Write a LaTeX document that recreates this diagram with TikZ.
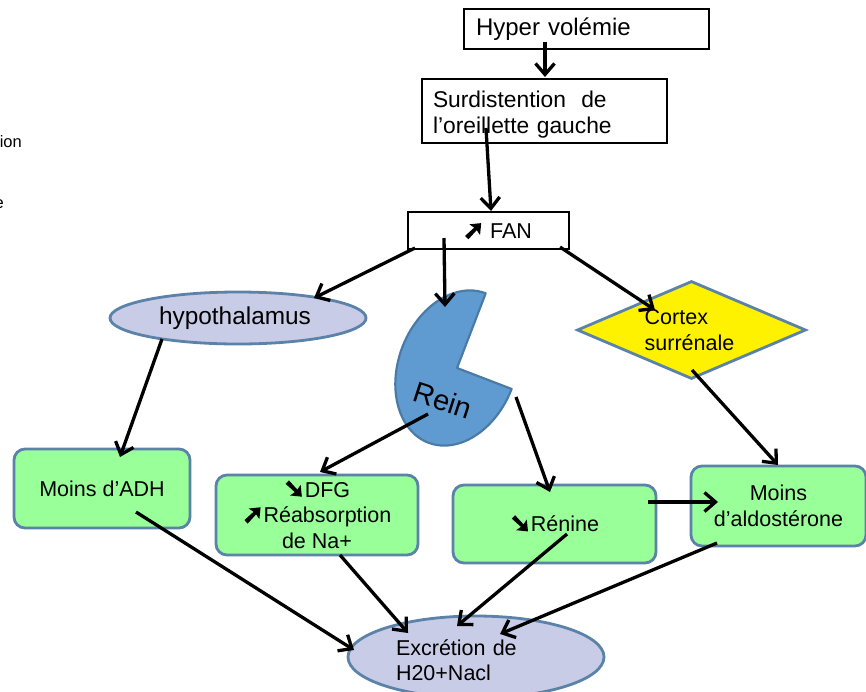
\documentclass[tikz,border=0pt]{standalone}
\usepackage{fontspec}
\setmainfont{Liberation Sans}
\newfontfamily\dv[RawFeature={embolden=7}]{DejaVu Sans}
\usetikzlibrary{arrows.meta,shapes.geometric}
\definecolor{nodeblue}{HTML}{5B82A8}
\definecolor{greenfill}{HTML}{99FF99}
\definecolor{lavfill}{HTML}{C9CCE6}
\definecolor{piefill}{HTML}{5F9BD1}
\definecolor{pieline}{HTML}{4A7BA6}
\newcommand{\up}{{\dv\fontsize{25}{18}\selectfont ➚}}
\newcommand{\dn}{{\dv\fontsize{25}{18}\selectfont ➘}}
\tikzset{
  body/.style={font=\fontsize{21.5}{25.5}\selectfont},
  plainbox/.style={draw=black,line width=1.5pt,fill=white,inner sep=0pt,align=left},
  greenbox/.style={body,draw=nodeblue,line width=2.8pt,fill=greenfill,rounded corners=11pt,inner sep=0pt,align=center},
  lavell/.style={body,ellipse,draw=nodeblue,line width=2.8pt,fill=lavfill,inner sep=0pt,align=left},
  arr/.style={draw=black,line width=3.3pt,-{Straight Barb[length=11pt,width=19pt,line width=3.3pt]}}
}
\begin{document}
\begin{tikzpicture}[x=1pt,y=-1pt]
\useasboundingbox (0,0) rectangle (866,691);
\clip (0,0) rectangle (866,691);
\node[font=\fontsize{16.5}{20}\selectfont,anchor=east,inner sep=0pt] (frag1) at (22,142) {ion};
\node[font=\fontsize{16.5}{20}\selectfont,anchor=east,inner sep=0pt] (frag2) at (4,204) {e};

\node[plainbox,font=\fontsize{24}{28}\selectfont,minimum width=245pt,minimum height=40pt,text width=221pt] (hv) at (586.5,29) {\raisebox{-1pt}{Hyper volémie}};
\node[plainbox,font=\fontsize{22.8}{26}\selectfont,minimum width=245pt,minimum height=64pt,text width=223pt] (sd) at (544.5,111) {\rule{0pt}{24pt}Surdistention\ \ de\\l’oreillette gauche};
\node[plainbox,body,minimum width=161pt,minimum height=37pt,align=center] (fan) at (488.5,230.5) {};
\node[body,inner sep=0pt,anchor=west] (fanlabel) at (463,231) {\up\ FAN};

\node[lavell,font=\fontsize{24.4}{28}\selectfont,minimum width=256pt,minimum height=52pt] (hy) at (238,318) {\hspace*{-6pt}hypothalamus};
\node[diamond,body,draw=nodeblue,line width=2.8pt,fill=yellow,inner sep=0pt,shape aspect=2.33,minimum width=229pt,minimum height=98pt,align=left] (ct) at (691.5,330) {\hspace*{-4pt}Cortex\\\hspace*{-4pt}surrénale};

\fill[piefill,draw=pieline,line width=2.2pt,line join=round]
  (457,368) -- plot[domain=90:360,samples=70,variable=\t,smooth]
  ({457+58.5*cos(\t)*cos(21)+80*sin(\t)*sin(21)},{368+58.5*cos(\t)*sin(21)-80*sin(\t)*cos(21)}) -- cycle;
\node[font=\fontsize{29}{32}\selectfont,rotate=-18,inner sep=0pt] (rein) at (443,400) {Rein};

\node[greenbox,minimum width=176pt,minimum height=79pt] (adh) at (102,488.5) {Moins d’ADH};
\node[greenbox,minimum width=202pt,minimum height=80pt] (dfg) at (317,515) {\dn DFG\\\up Réabsorption\\de Na+};
\node[greenbox,minimum width=203pt,minimum height=78pt] (ren) at (554.5,524) {\dn Rénine};
\node[greenbox,minimum width=175pt,minimum height=80pt] (ald) at (778.5,506) {Moins\\d’aldostérone};
\node[lavell,minimum width=256pt,minimum height=82pt,text width=160pt] (ex) at (476,657) {\rule{0pt}{22pt}Excrétion de\\H20+Nacl};

\draw[arr] ([shift={(-41.5,13)}]hv.center) -- ([shift={(0.5,-34)}]sd.center);
\draw[arr] ([shift={(-58.5,17)}]sd.center) -- ([shift={(2.5,-19.5)}]fan.center);
\draw[arr] ([shift={(-73.5,17.5)}]fan.center) -- ([shift={(76,-20)}]hy.center);
\draw[arr] ([shift={(-44.5,7.5)}]fan.center) -- ([shift={(2,-93)}]rein.center);
\draw[arr] ([shift={(71.5,16.5)}]fan.center) -- ([shift={(-36.5,-20)}]ct.center);
\draw[arr] ([shift={(-76,21)}]hy.center) -- ([shift={(18,-31.5)}]adh.center);
\draw[arr] ([shift={(0.5,40)}]ct.center) -- ([shift={(-0.5,-41)}]ald.center);
\draw[arr] ([shift={(-15,14)}]rein.center) -- ([shift={(3,-43)}]dfg.center);
\draw[arr] ([shift={(73,-3)}]rein.center) -- ([shift={(-4.5,-32)}]ren.center);
\draw[arr] ([shift={(93.5,-22)}]ren.center) -- ([shift={(-60.5,-4)}]ald.center);
\draw[arr] ([shift={(34,23.5)}]adh.center) -- ([shift={(-122,-7)}]ex.center);
\draw[arr] ([shift={(23,40)}]dfg.center) -- ([shift={(-68,-24)}]ex.center);
\draw[arr] ([shift={(12.5,10)}]ren.center) -- ([shift={(-19,-31)}]ex.center);
\draw[arr] ([shift={(-61.5,37)}]ald.center) -- ([shift={(24,-23)}]ex.center);
\end{tikzpicture}
\end{document}
